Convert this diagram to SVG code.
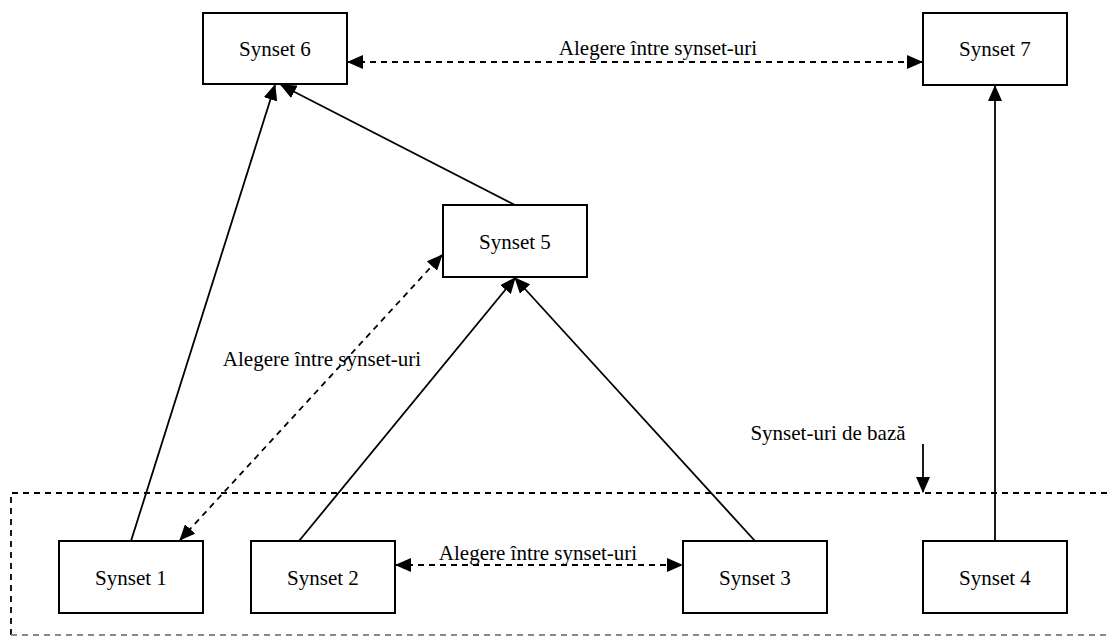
<svg xmlns="http://www.w3.org/2000/svg" width="1110" height="637" viewBox="0 0 1110 637">
<style>
.box{fill:#fff;stroke:#000;stroke-width:2}
.lbl{font-family:"Liberation Serif","Times New Roman",serif;font-size:21px;fill:#000;text-anchor:middle}
.ln{stroke:#000;stroke-width:1.8;fill:none}
.dash{stroke:#000;stroke-width:1.8;fill:none;stroke-dasharray:6,5}
</style>
<defs>
<marker id="ah" markerUnits="userSpaceOnUse" markerWidth="16" markerHeight="14" refX="15" refY="7" orient="auto-start-reverse" viewBox="0 0 16 14">
<path d="M0,0 L16,7 L0,14 z" fill="#000"/>
</marker>
</defs>
<rect x="0" y="0" width="1110" height="637" fill="#fff"/>
<g id="region">
<path d="M11,635 V493 H1110" class="dash"/>
<path d="M11,635 H1110" stroke="#888" stroke-width="1.8" fill="none" stroke-dasharray="6,5"/>
</g>
<g id="connectors">
<line x1="131" y1="541" x2="275" y2="85" class="ln" marker-end="url(#ah)"/>
<line x1="515" y1="205" x2="281" y2="85" class="ln" marker-end="url(#ah)"/>
<line x1="299" y1="541" x2="515" y2="278" class="ln" marker-end="url(#ah)"/>
<line x1="755" y1="541" x2="515" y2="278" class="ln" marker-end="url(#ah)"/>
<line x1="995" y1="541" x2="995" y2="86" class="ln" marker-end="url(#ah)"/>
<line x1="348" y1="62" x2="922" y2="62" class="dash" marker-start="url(#ah)" marker-end="url(#ah)"/>
<line x1="396" y1="565" x2="682" y2="565" class="dash" marker-start="url(#ah)" marker-end="url(#ah)"/>
<line x1="180" y1="540" x2="442" y2="255" class="dash" marker-start="url(#ah)" marker-end="url(#ah)"/>
<line x1="923" y1="444" x2="923" y2="492" class="ln" marker-end="url(#ah)"/>
<text x="658" y="55" class="lbl">Alegere între synset-uri</text>
<text x="322" y="366" class="lbl">Alegere între synset-uri</text>
<text x="538" y="560" class="lbl">Alegere între synset-uri</text>
<text x="828" y="440" class="lbl">Synset-uri de bază</text>
</g>
<g id="synset6"><rect x="203" y="13" width="144" height="71" class="box"/><text x="275" y="56" class="lbl">Synset 6</text></g>
<g id="synset7"><rect x="923" y="13" width="144" height="72" class="box"/><text x="995" y="56" class="lbl">Synset 7</text></g>
<g id="synset5"><rect x="443" y="205" width="144" height="72" class="box"/><text x="515" y="249" class="lbl">Synset 5</text></g>
<g id="synset1"><rect x="59" y="541" width="144" height="72" class="box"/><text x="131" y="585" class="lbl">Synset 1</text></g>
<g id="synset2"><rect x="251" y="541" width="144" height="72" class="box"/><text x="323" y="585" class="lbl">Synset 2</text></g>
<g id="synset3"><rect x="683" y="541" width="144" height="72" class="box"/><text x="755" y="585" class="lbl">Synset 3</text></g>
<g id="synset4"><rect x="923" y="541" width="144" height="72" class="box"/><text x="995" y="585" class="lbl">Synset 4</text></g>
</svg>
